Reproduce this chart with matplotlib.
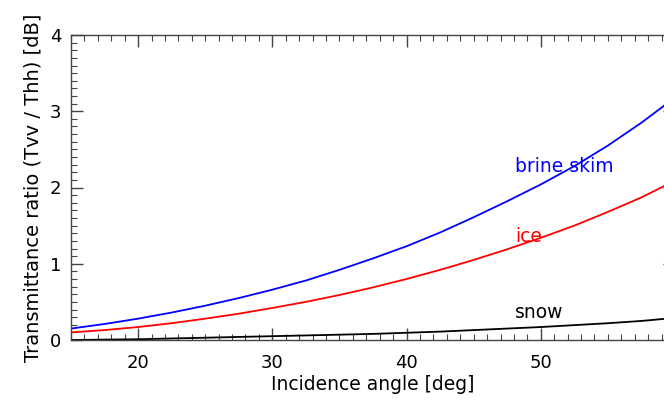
import numpy as np
import matplotlib.pyplot as plt
from matplotlib.ticker import MultipleLocator

# Incidence angle [deg] and transmittance ratio [dB]
angle = [15, 17.5, 20, 22.5, 25, 27.5, 30, 32.5, 35, 37.5, 40,
         42.5, 45, 47.5, 50, 52.5, 55, 57.5, 60]
brine = [0.15, 0.21, 0.28, 0.36, 0.45, 0.55, 0.66, 0.78, 0.92, 1.07, 1.23,
         1.41, 1.61, 1.82, 2.04, 2.28, 2.55, 2.85, 3.18]
ice = [0.10, 0.13, 0.17, 0.22, 0.28, 0.345, 0.42, 0.50, 0.59, 0.69, 0.80,
       0.92, 1.05, 1.19, 1.34, 1.50, 1.68, 1.87, 2.09]
snow = [0.00, 0.005, 0.01, 0.02, 0.03, 0.04, 0.05, 0.06, 0.07, 0.08, 0.095,
        0.11, 0.13, 0.15, 0.17, 0.195, 0.22, 0.25, 0.29]

labels = ['brine skim', 'ice', 'snow']
label_pos = [(48.1, 2.28), (48.1, 1.36), (48.1, 0.36)]
colors = ['blue', 'red', 'black']

fig = plt.figure(figsize=(6.64, 4.03), dpi=100)
ax = fig.add_axes([71/664, 63/403, 604/664, 305/403])

for yy, c in zip([brine, ice, snow], colors):
    ax.plot(angle, yy, color=c, lw=1.3)

for lab, (px, py), c in zip(labels, label_pos, colors):
    ax.text(px, py, lab, color=c, fontsize=13.5, va='center', ha='left')

ax.set_xlim(15, 60)
ax.set_ylim(0, 4)
ax.set_xticks([20, 30, 40, 50])
ax.xaxis.set_minor_locator(MultipleLocator(1))
ax.yaxis.set_major_locator(MultipleLocator(1))
ax.yaxis.set_minor_locator(MultipleLocator(0.1))
ax.tick_params(which='both', direction='in', top=True, right=True, labelsize=13,
               color='#444444')
ax.tick_params(which='major', length=8.5, width=1)
ax.tick_params(which='minor', length=4.3, width=0.8)
ax.tick_params(axis='x', pad=10)
ax.tick_params(axis='y', pad=7)
for s in ax.spines.values():
    s.set_color('#444444')
    s.set_linewidth(1)

ax.set_xlabel('Incidence angle [deg]', fontsize=13.5, labelpad=2)
ax.set_ylabel('Transmittance ratio (Tvv / Thh) [dB]', fontsize=14, labelpad=5)

fig.savefig('out.png', dpi=100)
